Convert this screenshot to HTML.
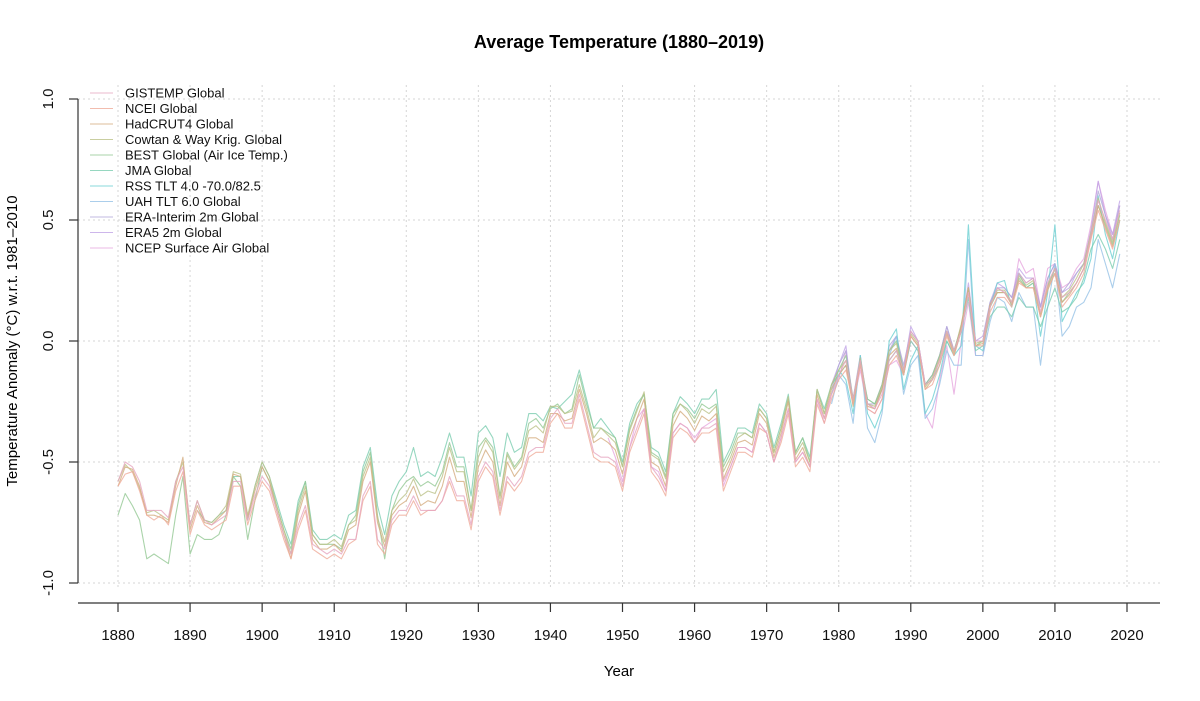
<!DOCTYPE html>
<html><head><meta charset="utf-8"><style>
body{margin:0;background:#fff;font-family:"Liberation Sans",Arial,sans-serif}
svg{display:block}
</style></head><body>
<svg id="chart" width="1200" height="701" viewBox="0 0 1200 701" xmlns="http://www.w3.org/2000/svg" font-family="Liberation Sans, Arial, sans-serif">
<text x="619" y="48" text-anchor="middle" font-size="18" font-weight="bold">Average Temperature (1880–2019)</text>
<text transform="translate(17,341) rotate(-90)" text-anchor="middle" font-size="15">Temperature Anomaly (°C) w.r.t. 1981–2010</text>
<text x="619" y="676" text-anchor="middle" font-size="15">Year</text>
<g id="grid"></g>
<g id="axes"></g>
<g id="series"></g>
<g id="legend"></g>
</svg>
<script>
const startYear = 1880;
const xTicks = [1880,1890,1900,1910,1920,1930,1940,1950,1960,1970,1980,1990,2000,2010,2020];
const yTicks = [-1.0,-0.5,0.0,0.5,1.0];
const yTickLabels = ["-1.0","-0.5","0.0","0.5","1.0"];
const seriesNames = ["GISTEMP Global","NCEI Global","HadCRUT4 Global","Cowtan & Way Krig. Global","BEST Global (Air Ice Temp.)","JMA Global","RSS TLT 4.0 -70.0/82.5","UAH TLT 6.0 Global","ERA-Interim 2m Global","ERA5 2m Global","NCEP Surface Air Global"];
const seriesColors = ["#e6a6c0","#efab9a","#d4ac80","#bcc288","#94c894","#7ccdb0","#6ccfd2","#96c2e6","#b0a8d8","#c0a4e6","#e6a6de"];
const seriesStart = [1880,1880,1880,1880,1880,1891,1979,1979,1979,1979,1948];
const gistemp = [-0.58,-0.50,-0.52,-0.58,-0.70,-0.70,-0.70,-0.73,-0.58,-0.52,
-0.76,-0.66,-0.74,-0.76,-0.74,-0.72,-0.58,-0.58,-0.74,-0.64,
-0.56,-0.60,-0.70,-0.80,-0.88,-0.76,-0.68,-0.84,-0.86,-0.88,
-0.86,-0.88,-0.82,-0.82,-0.64,-0.58,-0.82,-0.86,-0.74,-0.70,
-0.70,-0.64,-0.70,-0.70,-0.70,-0.66,-0.56,-0.64,-0.64,-0.76,
-0.56,-0.50,-0.54,-0.70,-0.56,-0.60,-0.56,-0.46,-0.44,-0.44,
-0.32,-0.28,-0.34,-0.34,-0.22,-0.34,-0.46,-0.48,-0.48,-0.50,
-0.60,-0.44,-0.36,-0.28,-0.52,-0.56,-0.62,-0.38,-0.34,-0.36,
-0.42,-0.36,-0.36,-0.34,-0.58,-0.52,-0.44,-0.44,-0.46,-0.34,
-0.38,-0.50,-0.40,-0.28,-0.50,-0.46,-0.52,-0.24,-0.32,-0.22,
-0.14,-0.08,-0.24,-0.08,-0.26,-0.28,-0.22,-0.08,-0.04,-0.12,
0.04,0.00,-0.18,-0.16,-0.08,0.04,-0.04,0.04,0.20,0.00,
0.00,0.14,0.22,0.20,0.16,0.28,0.24,0.26,0.12,0.24,
0.30,0.18,0.20,0.24,0.30,0.44,0.58,0.50,0.42,0.54];
const ncei = [-0.60,-0.55,-0.54,-0.62,-0.72,-0.74,-0.72,-0.76,-0.62,-0.54,
-0.80,-0.70,-0.76,-0.78,-0.76,-0.74,-0.60,-0.60,-0.76,-0.66,
-0.58,-0.62,-0.72,-0.82,-0.90,-0.78,-0.70,-0.86,-0.88,-0.90,
-0.88,-0.90,-0.84,-0.82,-0.66,-0.60,-0.84,-0.88,-0.76,-0.72,
-0.72,-0.66,-0.72,-0.70,-0.70,-0.66,-0.58,-0.66,-0.66,-0.78,
-0.58,-0.52,-0.56,-0.72,-0.58,-0.62,-0.58,-0.48,-0.46,-0.46,
-0.34,-0.30,-0.36,-0.36,-0.24,-0.36,-0.48,-0.50,-0.50,-0.52,
-0.62,-0.46,-0.38,-0.30,-0.54,-0.58,-0.64,-0.40,-0.36,-0.38,
-0.42,-0.38,-0.38,-0.36,-0.62,-0.54,-0.46,-0.46,-0.48,-0.36,
-0.38,-0.50,-0.42,-0.30,-0.52,-0.48,-0.54,-0.26,-0.34,-0.24,
-0.16,-0.12,-0.26,-0.10,-0.28,-0.30,-0.24,-0.10,-0.06,-0.14,
0.02,-0.02,-0.20,-0.18,-0.10,0.02,-0.06,0.04,0.20,-0.02,
-0.02,0.12,0.18,0.18,0.14,0.24,0.22,0.22,0.10,0.22,
0.28,0.14,0.18,0.22,0.28,0.42,0.54,0.46,0.38,0.50];
const hadcrut = [-0.60,-0.52,-0.53,-0.60,-0.72,-0.72,-0.73,-0.75,-0.60,-0.48,
-0.78,-0.68,-0.75,-0.76,-0.73,-0.70,-0.55,-0.56,-0.73,-0.62,
-0.52,-0.58,-0.70,-0.80,-0.90,-0.72,-0.62,-0.82,-0.86,-0.86,
-0.84,-0.87,-0.78,-0.76,-0.58,-0.50,-0.75,-0.85,-0.72,-0.68,
-0.66,-0.60,-0.68,-0.66,-0.67,-0.60,-0.48,-0.58,-0.58,-0.73,
-0.52,-0.45,-0.50,-0.68,-0.50,-0.56,-0.52,-0.40,-0.40,-0.42,
-0.30,-0.30,-0.33,-0.32,-0.20,-0.30,-0.42,-0.40,-0.42,-0.45,
-0.55,-0.40,-0.32,-0.24,-0.50,-0.52,-0.60,-0.35,-0.29,-0.32,
-0.37,-0.31,-0.33,-0.30,-0.57,-0.50,-0.42,-0.41,-0.43,-0.30,
-0.34,-0.48,-0.38,-0.25,-0.49,-0.44,-0.52,-0.22,-0.32,-0.20,
-0.14,-0.10,-0.27,-0.09,-0.27,-0.28,-0.20,-0.06,-0.03,-0.14,
0.02,-0.02,-0.20,-0.16,-0.08,0.03,-0.06,0.06,0.22,-0.02,
-0.01,0.15,0.20,0.20,0.15,0.25,0.22,0.22,0.10,0.21,
0.28,0.16,0.19,0.24,0.30,0.43,0.56,0.47,0.39,0.50];
const cowtan = [-0.58,-0.51,-0.54,-0.61,-0.71,-0.70,-0.72,-0.74,-0.58,-0.50,
-0.76,-0.66,-0.74,-0.75,-0.72,-0.68,-0.54,-0.55,-0.72,-0.60,
-0.50,-0.56,-0.68,-0.78,-0.88,-0.70,-0.60,-0.80,-0.84,-0.84,
-0.82,-0.85,-0.76,-0.74,-0.56,-0.48,-0.73,-0.83,-0.70,-0.66,
-0.63,-0.57,-0.64,-0.62,-0.63,-0.56,-0.44,-0.54,-0.54,-0.70,
-0.48,-0.41,-0.46,-0.65,-0.47,-0.53,-0.49,-0.37,-0.35,-0.38,
-0.27,-0.27,-0.30,-0.29,-0.18,-0.28,-0.40,-0.36,-0.39,-0.42,
-0.52,-0.37,-0.29,-0.21,-0.47,-0.49,-0.57,-0.32,-0.26,-0.29,
-0.34,-0.28,-0.30,-0.27,-0.54,-0.48,-0.40,-0.38,-0.40,-0.28,
-0.32,-0.46,-0.36,-0.23,-0.47,-0.42,-0.50,-0.20,-0.30,-0.18,
-0.12,-0.08,-0.26,-0.07,-0.26,-0.27,-0.19,-0.04,-0.01,-0.13,
0.03,-0.01,-0.19,-0.15,-0.07,0.04,-0.05,0.07,0.22,-0.01,
0.00,0.15,0.21,0.21,0.16,0.27,0.23,0.25,0.11,0.23,
0.30,0.18,0.21,0.26,0.32,0.45,0.59,0.49,0.41,0.53];
const best = [-0.72,-0.63,-0.68,-0.74,-0.90,-0.88,-0.90,-0.92,-0.72,-0.56,
-0.88,-0.80,-0.82,-0.82,-0.80,-0.72,-0.56,-0.60,-0.82,-0.66,
-0.52,-0.58,-0.68,-0.78,-0.86,-0.68,-0.58,-0.80,-0.84,-0.84,
-0.84,-0.86,-0.76,-0.72,-0.54,-0.46,-0.72,-0.90,-0.70,-0.62,
-0.58,-0.56,-0.60,-0.58,-0.60,-0.54,-0.42,-0.52,-0.52,-0.70,
-0.44,-0.40,-0.44,-0.64,-0.46,-0.52,-0.48,-0.34,-0.32,-0.36,
-0.28,-0.26,-0.30,-0.28,-0.14,-0.26,-0.36,-0.36,-0.38,-0.40,
-0.52,-0.36,-0.28,-0.22,-0.46,-0.48,-0.56,-0.30,-0.26,-0.28,
-0.32,-0.26,-0.28,-0.26,-0.52,-0.46,-0.38,-0.38,-0.40,-0.28,
-0.32,-0.46,-0.36,-0.24,-0.46,-0.40,-0.50,-0.20,-0.30,-0.18,
-0.12,-0.06,-0.24,-0.08,-0.24,-0.26,-0.18,-0.04,0.00,-0.12,
0.02,-0.02,-0.18,-0.14,-0.06,0.04,-0.04,0.06,0.22,-0.02,
0.00,0.14,0.20,0.20,0.16,0.26,0.22,0.24,0.10,0.22,
0.30,0.16,0.20,0.24,0.30,0.44,0.56,0.48,0.40,0.52];
const jma = [-0.70,-0.74,-0.75,-0.72,-0.70,-0.56,-0.56,-0.74,-0.60,
-0.50,-0.56,-0.66,-0.76,-0.84,-0.66,-0.58,-0.78,-0.82,-0.82,
-0.80,-0.82,-0.72,-0.70,-0.52,-0.44,-0.68,-0.80,-0.64,-0.58,
-0.54,-0.44,-0.56,-0.54,-0.56,-0.48,-0.38,-0.48,-0.48,-0.64,
-0.38,-0.35,-0.40,-0.56,-0.38,-0.46,-0.44,-0.30,-0.30,-0.33,
-0.27,-0.28,-0.25,-0.22,-0.12,-0.24,-0.36,-0.32,-0.36,-0.40,
-0.50,-0.34,-0.26,-0.22,-0.44,-0.46,-0.54,-0.30,-0.23,-0.26,
-0.30,-0.24,-0.24,-0.20,-0.50,-0.44,-0.36,-0.36,-0.38,-0.26,
-0.30,-0.44,-0.34,-0.22,-0.46,-0.40,-0.48,-0.20,-0.28,-0.18,
-0.14,-0.10,-0.24,-0.10,-0.24,-0.26,-0.20,-0.08,-0.04,-0.14,
0.00,-0.04,-0.18,-0.16,-0.10,0.00,-0.06,0.04,0.18,-0.04,
-0.02,0.10,0.14,0.14,0.10,0.18,0.14,0.14,0.06,0.14,
0.22,0.12,0.14,0.18,0.26,0.38,0.44,0.38,0.30,0.42];
const rss = [-0.22,-0.12,-0.16,-0.30,-0.06,-0.30,-0.36,-0.28,0.00,0.05,-0.20,
-0.08,-0.02,-0.30,-0.24,-0.14,0.00,-0.06,-0.02,0.48,-0.02,
-0.04,0.14,0.24,0.25,0.14,0.28,0.22,0.24,0.02,0.20,
0.48,0.08,0.14,0.20,0.24,0.34,0.60,0.44,0.34,0.50];
const uah = [-0.26,-0.14,-0.18,-0.34,-0.06,-0.36,-0.42,-0.30,-0.06,0.02,-0.22,
-0.10,-0.06,-0.32,-0.28,-0.18,-0.04,-0.10,-0.10,0.42,-0.06,
-0.06,0.08,0.18,0.16,0.08,0.20,0.14,0.14,-0.10,0.14,
0.32,0.02,0.06,0.14,0.16,0.22,0.42,0.32,0.22,0.36];
const erai = [-0.20,-0.10,-0.04,-0.24,-0.06,-0.26,-0.26,-0.18,-0.02,0.02,-0.10,
0.04,0.00,-0.18,-0.14,-0.06,0.06,-0.04,0.06,0.22,0.00,
0.00,0.16,0.22,0.22,0.18,0.28,0.24,0.26,0.14,0.26,
0.32,0.20,0.24,0.28,0.32,0.44,0.62,0.52,0.42,0.56];
const era5 = [-0.18,-0.10,-0.02,-0.26,-0.08,-0.26,-0.28,-0.20,-0.04,0.02,-0.12,
0.06,0.00,-0.18,-0.14,-0.06,0.06,-0.04,0.04,0.24,0.00,
0.02,0.16,0.24,0.22,0.18,0.30,0.26,0.26,0.14,0.26,
0.32,0.20,0.22,0.28,0.32,0.46,0.66,0.52,0.44,0.58];
const ncep = [-0.40,-0.48,-0.58,-0.44,-0.32,-0.28,-0.52,-0.54,-0.62,-0.38,-0.34,-0.36,
-0.40,-0.36,-0.34,-0.32,-0.60,-0.52,-0.44,-0.44,-0.46,-0.34,
-0.38,-0.50,-0.40,-0.28,-0.50,-0.46,-0.52,-0.24,-0.34,-0.22,
-0.16,-0.04,-0.26,-0.12,-0.28,-0.30,-0.24,-0.10,-0.08,-0.14,
0.00,-0.04,-0.30,-0.36,-0.16,-0.02,-0.22,0.00,0.16,-0.06,
-0.06,0.14,0.22,0.20,0.16,0.34,0.28,0.30,0.14,0.30,
0.32,0.22,0.24,0.30,0.34,0.48,0.66,0.54,0.44,0.56];
const seriesValues = [gistemp,ncei,hadcrut,cowtan,best,jma,rss,uah,erai,era5,ncep];

const NS="http://www.w3.org/2000/svg";
const xScale = yr => 118 + (yr - 1880) * (1127 - 118) / 140;
const yScale = v => 341 - v * 242;
function mk(tag, attrs, parent){const e=document.createElementNS(NS,tag);for(const k in attrs)e.setAttribute(k,attrs[k]);parent.appendChild(e);return e;}
const grid=document.getElementById('grid'), axes=document.getElementById('axes'), ser=document.getElementById('series'), leg=document.getElementById('legend');
xTicks.forEach(t=>{
  const l=mk('line',{x1:xScale(t),x2:xScale(t),y1:85,y2:590,stroke:"#d6d6d6","stroke-dasharray":"2,3","stroke-width":1},grid);
  
  
  const tk=mk('line',{x1:xScale(t),x2:xScale(t),y1:603,y2:612,stroke:"#333","stroke-width":1.2},axes);
  
  
  const tx=mk('text',{x:xScale(t),y:640,"text-anchor":"middle","font-size":15,fill:"#111"},axes);
  tx.textContent=t;
  
  
});
yTicks.forEach((t,i)=>{
  const l=mk('line',{x1:78,x2:1160,y1:yScale(t),y2:yScale(t),stroke:"#d6d6d6","stroke-dasharray":"2,3","stroke-width":1},grid);
  
  
  const tk=mk('line',{x1:69,x2:78,y1:yScale(t),y2:yScale(t),stroke:"#333","stroke-width":1.2},axes);
  
  
  const tx=mk('text',{transform:`translate(53,${yScale(t)}) rotate(-90)`,"text-anchor":"middle","font-size":15,fill:"#111"},axes);
  tx.textContent=yTickLabels[i];
  
  
});
const ya=mk('line',{x1:78,x2:78,y1:yScale(1),y2:yScale(-1),stroke:"#333","stroke-width":1.2},axes);


const xa=mk('line',{x1:78,x2:1160,y1:603,y2:603,stroke:"#333","stroke-width":1.2},axes);


const drawOrder=[10,9,8,7,6,5,4,3,2,1,0];
drawOrder.forEach(i=>{
  const vals=seriesValues[i];
  const pts=vals.map((v,j)=>xScale(seriesStart[i]+j).toFixed(1)+','+yScale(v).toFixed(1)).join(' ');
  const p=mk('polyline',{points:pts,fill:"none",stroke:seriesColors[i],"stroke-width":1.1,"stroke-opacity":0.8,"stroke-linejoin":"round"},ser);
  
  
});
seriesNames.forEach((n,i)=>{
  const y=93+15.5*i;
  const g=mk('g',{},leg);
  
  
  mk('line',{x1:90,x2:113,y1:y,y2:y,stroke:seriesColors[i],"stroke-width":1.1,"stroke-opacity":0.8},g);
  const t=mk('text',{x:125,y:y+4.5,"font-size":13,fill:"#111"},g);
  t.textContent=n;
});
</script>
</body></html>
